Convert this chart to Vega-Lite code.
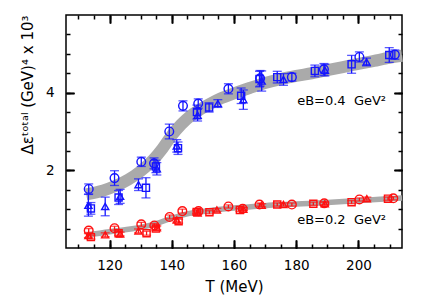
{
  "$schema": "https://vega.github.io/schema/vega-lite/v6.json",
  "width": 336,
  "height": 233,
  "autosize": {"type": "none"},
  "padding": {"left": 66, "top": 15, "right": 23, "bottom": 60},
  "background": "white",
  "config": {
    "view": {"stroke": "black", "strokeWidth": 1.5},
    "axis": {"domain": false, "grid": false, "tickColor": "#000000", "tickWidth": 1.5}
  },
  "datasets": {
    "bands": [
      {"T": 112.5, "v": 1.38, "eB": "0.4"},
      {"T": 118, "v": 1.48, "eB": "0.4"},
      {"T": 122, "v": 1.6, "eB": "0.4"},
      {"T": 126, "v": 1.76, "eB": "0.4"},
      {"T": 130, "v": 1.98, "eB": "0.4"},
      {"T": 134, "v": 2.27, "eB": "0.4"},
      {"T": 137, "v": 2.56, "eB": "0.4"},
      {"T": 140, "v": 2.9, "eB": "0.4"},
      {"T": 143, "v": 3.18, "eB": "0.4"},
      {"T": 146, "v": 3.4, "eB": "0.4"},
      {"T": 149, "v": 3.56, "eB": "0.4"},
      {"T": 152, "v": 3.7, "eB": "0.4"},
      {"T": 156, "v": 3.86, "eB": "0.4"},
      {"T": 160, "v": 3.98, "eB": "0.4"},
      {"T": 165, "v": 4.12, "eB": "0.4"},
      {"T": 170, "v": 4.25, "eB": "0.4"},
      {"T": 175, "v": 4.35, "eB": "0.4"},
      {"T": 180, "v": 4.43, "eB": "0.4"},
      {"T": 185, "v": 4.5, "eB": "0.4"},
      {"T": 190, "v": 4.58, "eB": "0.4"},
      {"T": 195, "v": 4.66, "eB": "0.4"},
      {"T": 200, "v": 4.74, "eB": "0.4"},
      {"T": 205, "v": 4.82, "eB": "0.4"},
      {"T": 210, "v": 4.9, "eB": "0.4"},
      {"T": 214, "v": 4.95, "eB": "0.4"},
      {"T": 112.5, "v": 0.33, "eB": "0.2"},
      {"T": 120, "v": 0.42, "eB": "0.2"},
      {"T": 125, "v": 0.47, "eB": "0.2"},
      {"T": 130, "v": 0.53, "eB": "0.2"},
      {"T": 135, "v": 0.63, "eB": "0.2"},
      {"T": 140, "v": 0.77, "eB": "0.2"},
      {"T": 145, "v": 0.88, "eB": "0.2"},
      {"T": 150, "v": 0.94, "eB": "0.2"},
      {"T": 155, "v": 0.99, "eB": "0.2"},
      {"T": 160, "v": 1.03, "eB": "0.2"},
      {"T": 170, "v": 1.09, "eB": "0.2"},
      {"T": 180, "v": 1.13, "eB": "0.2"},
      {"T": 190, "v": 1.17, "eB": "0.2"},
      {"T": 200, "v": 1.22, "eB": "0.2"},
      {"T": 214, "v": 1.29, "eB": "0.2"}
    ],
    "points": [
      {"T": 113.3, "v": 1.52, "lo": 1.39, "hi": 1.65, "m": "c", "eB": "0.4"},
      {"T": 121.6, "v": 1.8, "lo": 1.61, "hi": 1.99, "m": "c", "eB": "0.4"},
      {"T": 130.2, "v": 2.22, "lo": 2.10, "hi": 2.34, "m": "c", "eB": "0.4"},
      {"T": 134.3, "v": 2.18, "lo": 2.04, "hi": 2.32, "m": "c", "eB": "0.4"},
      {"T": 139.2, "v": 3.0, "lo": 2.81, "hi": 3.19, "m": "c", "eB": "0.4"},
      {"T": 143.6, "v": 3.66, "lo": 3.53, "hi": 3.79, "m": "c", "eB": "0.4"},
      {"T": 148.5, "v": 3.72, "lo": 3.60, "hi": 3.84, "m": "c", "eB": "0.4"},
      {"T": 158.2, "v": 4.1, "lo": 3.97, "hi": 4.23, "m": "c", "eB": "0.4"},
      {"T": 168.4, "v": 4.37, "lo": 4.17, "hi": 4.57, "m": "c", "eB": "0.4"},
      {"T": 178.6, "v": 4.4, "lo": 4.30, "hi": 4.50, "m": "c", "eB": "0.4"},
      {"T": 188.9, "v": 4.6, "lo": 4.45, "hi": 4.75, "m": "c", "eB": "0.4"},
      {"T": 200.3, "v": 4.92, "lo": 4.79, "hi": 5.05, "m": "c", "eB": "0.4"},
      {"T": 211.7, "v": 4.98, "lo": 4.86, "hi": 5.10, "m": "c", "eB": "0.4"},
      {"T": 114, "v": 1.02, "lo": 0.87, "hi": 1.17, "m": "s", "eB": "0.4"},
      {"T": 122.9, "v": 1.3, "lo": 1.12, "hi": 1.48, "m": "s", "eB": "0.4"},
      {"T": 131.7, "v": 1.55, "lo": 1.29, "hi": 1.81, "m": "s", "eB": "0.4"},
      {"T": 134.9, "v": 2.1, "lo": 1.94, "hi": 2.26, "m": "s", "eB": "0.4"},
      {"T": 142, "v": 2.57, "lo": 2.41, "hi": 2.73, "m": "s", "eB": "0.4"},
      {"T": 148.1, "v": 3.5, "lo": 3.32, "hi": 3.68, "m": "s", "eB": "0.4"},
      {"T": 152, "v": 3.62, "lo": 3.50, "hi": 3.74, "m": "s", "eB": "0.4"},
      {"T": 162.3, "v": 3.92, "lo": 3.72, "hi": 4.12, "m": "s", "eB": "0.4"},
      {"T": 168.2, "v": 4.35, "lo": 4.15, "hi": 4.55, "m": "s", "eB": "0.4"},
      {"T": 173.9, "v": 4.4, "lo": 4.25, "hi": 4.55, "m": "s", "eB": "0.4"},
      {"T": 186, "v": 4.56, "lo": 4.41, "hi": 4.71, "m": "s", "eB": "0.4"},
      {"T": 197.8, "v": 4.73, "lo": 4.50, "hi": 4.96, "m": "s", "eB": "0.4"},
      {"T": 209.9, "v": 4.97, "lo": 4.78, "hi": 5.16, "m": "s", "eB": "0.4"},
      {"T": 113.2, "v": 1.1, "lo": 0.82, "hi": 1.38, "m": "t", "eB": "0.4"},
      {"T": 118.6, "v": 1.07, "lo": 0.83, "hi": 1.31, "m": "t", "eB": "0.4"},
      {"T": 123.4, "v": 1.33, "lo": 1.15, "hi": 1.51, "m": "t", "eB": "0.4"},
      {"T": 129.3, "v": 1.63, "lo": 1.48, "hi": 1.78, "m": "t", "eB": "0.4"},
      {"T": 135.2, "v": 2.04, "lo": 1.88, "hi": 2.20, "m": "t", "eB": "0.4"},
      {"T": 141.6, "v": 2.63, "lo": 2.47, "hi": 2.79, "m": "t", "eB": "0.4"},
      {"T": 148.3, "v": 3.42, "lo": 3.27, "hi": 3.57, "m": "t", "eB": "0.4"},
      {"T": 154.8, "v": 3.72, "lo": 3.62, "hi": 3.82, "m": "t", "eB": "0.4"},
      {"T": 163, "v": 3.82, "lo": 3.57, "hi": 4.07, "m": "t", "eB": "0.4"},
      {"T": 168.9, "v": 4.3, "lo": 4.04, "hi": 4.56, "m": "t", "eB": "0.4"},
      {"T": 175.9, "v": 4.34, "lo": 4.19, "hi": 4.49, "m": "t", "eB": "0.4"},
      {"T": 189.2, "v": 4.58, "lo": 4.43, "hi": 4.73, "m": "t", "eB": "0.4"},
      {"T": 202.6, "v": 4.79, "lo": 4.69, "hi": 4.89, "m": "t", "eB": "0.4"},
      {"T": 113.3, "v": 0.45, "lo": 0.40, "hi": 0.50, "m": "c", "eB": "0.2"},
      {"T": 121.6, "v": 0.51, "lo": 0.46, "hi": 0.56, "m": "c", "eB": "0.2"},
      {"T": 130.2, "v": 0.61, "lo": 0.56, "hi": 0.66, "m": "c", "eB": "0.2"},
      {"T": 134.4, "v": 0.58, "lo": 0.53, "hi": 0.63, "m": "c", "eB": "0.2"},
      {"T": 139.3, "v": 0.8, "lo": 0.75, "hi": 0.85, "m": "c", "eB": "0.2"},
      {"T": 143.4, "v": 0.95, "lo": 0.90, "hi": 1.00, "m": "c", "eB": "0.2"},
      {"T": 148.6, "v": 0.95, "lo": 0.90, "hi": 1.00, "m": "c", "eB": "0.2"},
      {"T": 158.2, "v": 1.07, "lo": 1.03, "hi": 1.11, "m": "c", "eB": "0.2"},
      {"T": 162.8, "v": 1.01, "lo": 0.97, "hi": 1.05, "m": "c", "eB": "0.2"},
      {"T": 168.2, "v": 1.12, "lo": 1.08, "hi": 1.16, "m": "c", "eB": "0.2"},
      {"T": 178.6, "v": 1.12, "lo": 1.08, "hi": 1.16, "m": "c", "eB": "0.2"},
      {"T": 189, "v": 1.15, "lo": 1.11, "hi": 1.19, "m": "c", "eB": "0.2"},
      {"T": 200.3, "v": 1.25, "lo": 1.21, "hi": 1.29, "m": "c", "eB": "0.2"},
      {"T": 211.2, "v": 1.28, "lo": 1.24, "hi": 1.32, "m": "c", "eB": "0.2"},
      {"T": 114, "v": 0.28, "lo": 0.23, "hi": 0.33, "m": "s", "eB": "0.2"},
      {"T": 122.9, "v": 0.38, "lo": 0.33, "hi": 0.43, "m": "s", "eB": "0.2"},
      {"T": 131.9, "v": 0.38, "lo": 0.33, "hi": 0.43, "m": "s", "eB": "0.2"},
      {"T": 134.9, "v": 0.5, "lo": 0.45, "hi": 0.55, "m": "s", "eB": "0.2"},
      {"T": 142.2, "v": 0.69, "lo": 0.64, "hi": 0.74, "m": "s", "eB": "0.2"},
      {"T": 148, "v": 0.93, "lo": 0.88, "hi": 0.98, "m": "s", "eB": "0.2"},
      {"T": 152.1, "v": 0.92, "lo": 0.88, "hi": 0.96, "m": "s", "eB": "0.2"},
      {"T": 161.9, "v": 0.98, "lo": 0.94, "hi": 1.02, "m": "s", "eB": "0.2"},
      {"T": 173.9, "v": 1.12, "lo": 1.08, "hi": 1.16, "m": "s", "eB": "0.2"},
      {"T": 185.5, "v": 1.14, "lo": 1.10, "hi": 1.18, "m": "s", "eB": "0.2"},
      {"T": 197.8, "v": 1.18, "lo": 1.14, "hi": 1.22, "m": "s", "eB": "0.2"},
      {"T": 209.5, "v": 1.27, "lo": 1.23, "hi": 1.31, "m": "s", "eB": "0.2"},
      {"T": 113.2, "v": 0.32, "lo": 0.27, "hi": 0.37, "m": "t", "eB": "0.2"},
      {"T": 118.6, "v": 0.34, "lo": 0.29, "hi": 0.39, "m": "t", "eB": "0.2"},
      {"T": 123.4, "v": 0.36, "lo": 0.31, "hi": 0.41, "m": "t", "eB": "0.2"},
      {"T": 129.3, "v": 0.44, "lo": 0.39, "hi": 0.49, "m": "t", "eB": "0.2"},
      {"T": 135.2, "v": 0.52, "lo": 0.47, "hi": 0.57, "m": "t", "eB": "0.2"},
      {"T": 141.6, "v": 0.72, "lo": 0.67, "hi": 0.77, "m": "t", "eB": "0.2"},
      {"T": 148.3, "v": 0.9, "lo": 0.85, "hi": 0.95, "m": "t", "eB": "0.2"},
      {"T": 154.5, "v": 0.98, "lo": 0.94, "hi": 1.02, "m": "t", "eB": "0.2"},
      {"T": 163, "v": 1.0, "lo": 0.96, "hi": 1.04, "m": "t", "eB": "0.2"},
      {"T": 168.9, "v": 1.1, "lo": 1.06, "hi": 1.14, "m": "t", "eB": "0.2"},
      {"T": 175.9, "v": 1.12, "lo": 1.08, "hi": 1.16, "m": "t", "eB": "0.2"},
      {"T": 189.2, "v": 1.14, "lo": 1.10, "hi": 1.18, "m": "t", "eB": "0.2"},
      {"T": 202.7, "v": 1.27, "lo": 1.23, "hi": 1.31, "m": "t", "eB": "0.2"}
    ],
    "labels": [
      {"T": 180.3, "v": 3.79, "txt": "eB=0.4\u00a0 GeV²"},
      {"T": 180.3, "v": 0.71, "txt": "eB=0.2\u00a0 GeV²"}
    ]
  },
  "resolve": {"axis": {"x": "independent", "y": "independent"}},
  "layer": [
    {
      "data": {"name": "bands"},
      "transform": [{"filter": "datum.eB == '0.4'"}],
      "mark": {"type": "line", "color": "#aaaaaa", "strokeWidth": 12, "strokeCap": "butt", "interpolate": "monotone"},
      "encoding": {
        "x": {"field": "T", "type": "quantitative", "scale": {"domain": [106, 214], "nice": false, "zero": false},
          "axis": {"orient": "bottom", "values": [120, 140, 160, 180, 200], "ticks": false, "labelPadding": 10, "labelFont": "DejaVu Sans", "labelFontSize": 13.5, "labelColor": "black", "title": "T (MeV)", "titlePadding": 8, "titleFont": "DejaVu Sans", "titleFontSize": 15, "titleFontWeight": "normal", "titleColor": "black"}},
        "y": {"field": "v", "type": "quantitative", "scale": {"domain": [0, 6], "nice": false, "zero": false},
          "axis": {"orient": "left", "values": [2, 4], "ticks": false, "labelPadding": 12, "labelFont": "DejaVu Sans", "labelFontSize": 13.5, "labelColor": "black", "title": "Δεᵗᵒᵗᵃˡ (GeV)⁴ x 10³", "titleAnchor": "end", "titlePadding": 10, "titleFont": "DejaVu Sans", "titleFontSize": 15, "titleFontWeight": "normal", "titleColor": "black"}}
      }
    },
    {
      "data": {"name": "bands"},
      "transform": [{"filter": "datum.eB == '0.2'"}],
      "mark": {"type": "line", "color": "#aaaaaa", "strokeWidth": 5.5, "strokeCap": "butt", "interpolate": "monotone"},
      "encoding": {
        "x": {"field": "T", "type": "quantitative",
          "axis": {"orient": "top", "offset": -233, "values": [110, 115, 120, 125, 130, 135, 140, 145, 150, 155, 160, 165, 170, 175, 180, 185, 190, 195, 200, 205, 210], "tickSize": 4, "tickColor": "black", "labels": false, "title": null}},
        "y": {"field": "v", "type": "quantitative",
          "axis": {"orient": "right", "offset": -336, "values": [0.5, 1, 1.5, 2, 2.5, 3, 3.5, 4, 4.5, 5, 5.5], "tickSize": 4, "tickColor": "black", "labels": false, "title": null}}
      }
    },
    {
      "data": {"name": "points"},
      "mark": {"type": "rule", "strokeWidth": 1.3},
      "encoding": {
        "x": {"field": "T", "type": "quantitative",
          "axis": {"orient": "bottom", "offset": -233, "values": [110, 115, 120, 125, 130, 135, 140, 145, 150, 155, 160, 165, 170, 175, 180, 185, 190, 195, 200, 205, 210], "tickSize": 4, "tickColor": "black", "labels": false, "title": null}},
        "y": {"field": "lo", "type": "quantitative",
          "axis": {"orient": "left", "offset": -336, "values": [0.5, 1, 1.5, 2, 2.5, 3, 3.5, 4, 4.5, 5, 5.5], "tickSize": 4, "tickColor": "black", "labels": false, "title": null}},
        "y2": {"field": "hi"},
        "color": {"field": "eB", "type": "nominal", "scale": {"domain": ["0.4", "0.2"], "range": ["#1414ff", "#ff1010"]}, "legend": null}
      }
    },
    {
      "data": {"name": "points"},
      "mark": {"type": "tick", "orient": "horizontal", "size": 9, "thickness": 1.3},
      "encoding": {
        "x": {"field": "T", "type": "quantitative",
          "axis": {"orient": "top", "offset": -233, "values": [120, 140, 160, 180, 200], "tickSize": 8, "tickColor": "black", "labels": false, "title": null}},
        "y": {"field": "lo", "type": "quantitative",
          "axis": {"orient": "right", "offset": -336, "values": [2, 4], "tickSize": 8, "tickColor": "black", "labels": false, "title": null}},
        "color": {"field": "eB", "type": "nominal", "legend": null}
      }
    },
    {
      "data": {"name": "points"},
      "mark": {"type": "tick", "orient": "horizontal", "size": 9, "thickness": 1.3},
      "encoding": {
        "x": {"field": "T", "type": "quantitative",
          "axis": {"orient": "bottom", "offset": -233, "values": [120, 140, 160, 180, 200], "tickSize": 8, "tickColor": "black", "labels": false, "title": null}},
        "y": {"field": "hi", "type": "quantitative",
          "axis": {"orient": "left", "offset": -336, "values": [2, 4], "tickSize": 8, "tickColor": "black", "labels": false, "title": null}},
        "color": {"field": "eB", "type": "nominal", "legend": null}
      }
    },
    {
      "data": {"name": "points"},
      "transform": [{"filter": "datum.m == 'c'"}],
      "mark": {"type": "point", "shape": "circle", "size": 75, "filled": false, "strokeWidth": 1.4, "opacity": 1},
      "encoding": {
        "x": {"field": "T", "type": "quantitative",
          "axis": {"orient": "top", "offset": -233, "values": [120, 140, 160, 180, 200], "tickSize": 8, "tickColor": "black", "labels": false, "title": null}},
        "y": {"field": "v", "type": "quantitative",
          "axis": {"orient": "right", "offset": -336, "values": [2, 4], "tickSize": 8, "tickColor": "black", "labels": false, "title": null}},
        "color": {"field": "eB", "type": "nominal", "legend": null}
      }
    },
    {
      "data": {"name": "points"},
      "transform": [{"filter": "datum.m == 's'"}],
      "mark": {"type": "point", "shape": "square", "size": 50, "filled": false, "strokeWidth": 1.4, "opacity": 1},
      "encoding": {
        "x": {"field": "T", "type": "quantitative",
          "axis": {"orient": "bottom", "offset": -233, "values": [120, 140, 160, 180, 200], "tickSize": 8, "tickColor": "black", "labels": false, "title": null}},
        "y": {"field": "v", "type": "quantitative",
          "axis": {"orient": "left", "offset": -336, "values": [2, 4], "tickSize": 8, "tickColor": "black", "labels": false, "title": null}},
        "color": {"field": "eB", "type": "nominal", "legend": null}
      }
    },
    {
      "data": {"name": "points"},
      "transform": [{"filter": "datum.m == 't'"}],
      "mark": {"type": "point", "shape": "triangle-up", "size": 50, "filled": false, "strokeWidth": 1.4, "opacity": 1},
      "encoding": {
        "x": {"field": "T", "type": "quantitative",
          "axis": {"orient": "top", "offset": -233, "values": [120, 140, 160, 180, 200], "tickSize": 8, "tickColor": "black", "labels": false, "title": null}},
        "y": {"field": "v", "type": "quantitative",
          "axis": {"orient": "right", "offset": -336, "values": [2, 4], "tickSize": 8, "tickColor": "black", "labels": false, "title": null}},
        "color": {"field": "eB", "type": "nominal", "legend": null}
      }
    },
    {
      "data": {"name": "labels"},
      "mark": {"type": "text", "align": "left", "baseline": "middle", "font": "DejaVu Sans", "fontSize": 13, "color": "black"},
      "encoding": {
        "x": {"field": "T", "type": "quantitative",
          "axis": {"orient": "bottom", "offset": -233, "values": [120, 140, 160, 180, 200], "tickSize": 8, "tickColor": "black", "labels": false, "title": null}},
        "y": {"field": "v", "type": "quantitative",
          "axis": {"orient": "left", "offset": -336, "values": [2, 4], "tickSize": 8, "tickColor": "black", "labels": false, "title": null}},
        "text": {"field": "txt"}
      }
    }
  ]
}
